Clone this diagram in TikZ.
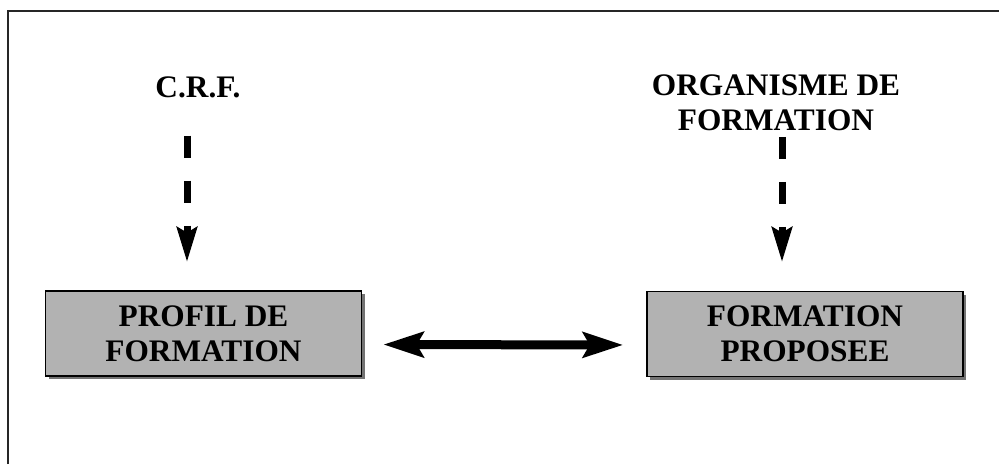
\documentclass[tikz,border=0pt]{standalone}
\usepackage{fontspec}
\setmainfont{Liberation Serif}
\usepackage{tikz}
\usetikzlibrary{arrows.meta,positioning,calc,shadows}

\begin{document}
\begin{tikzpicture}[x=0.75pt,y=-0.75pt,
    label/.style={font=\fontsize{23.5}{26.25}\selectfont\bfseries, inner sep=0pt, align=center},
    boxnode/.style={label, draw=black, line width=1.2pt, fill=black!30,
        minimum width=237pt, minimum height=63.75pt,
        drop shadow={shadow xshift=2.25pt, shadow yshift=-2.25pt, fill=black!55, opacity=1}},
    dasharrow/.style={line width=5.25pt, dash pattern=on 16.5pt off 17.25pt,
        -{Stealth[length=26pt, width=15pt, inset=4pt]}},
    dblarrow/.style={line width=6.75pt,
        {Stealth[length=30pt, width=18.75pt, inset=5pt]}-{Stealth[length=30pt, width=18.75pt, inset=5pt]}}]
    % Page size
    \useasboundingbox (0,0) rectangle (999,464);

    % Frame (only top and left edges show)
    \draw[line width=1.5pt, black!85] (8,464) -- (8,11) -- (999,11);

    % Sources
    \node[label, anchor=base] (crf) at (198,97) {C.R.F.};
    \node[label] (orga) at (776,102.5) {ORGANISME DE\\FORMATION};

    % Boxes
    \node[boxnode] (profil) at (203.5,333.5) {PROFIL DE\\FORMATION};
    \node[boxnode] (proposee) at (805,334) {FORMATION\\PROPOSEE};

    % Dashed arrows
    \coordinate (crftip) at (187,262);
    \coordinate (orgatip) at (782,262);
    \draw[dasharrow, shorten <=28.5pt] (crf.south -| crftip) -- (crftip);
    \draw[dasharrow, shorten <=4.5pt] (orga.south -| orgatip) -- (orgatip);

    % Link between boxes
    \draw[dblarrow, shorten <=15.75pt, shorten >=17.25pt]
        ([yshift=-8.25pt]profil.east) -- ([yshift=-8.25pt]proposee.west);
\end{tikzpicture}
\end{document}
